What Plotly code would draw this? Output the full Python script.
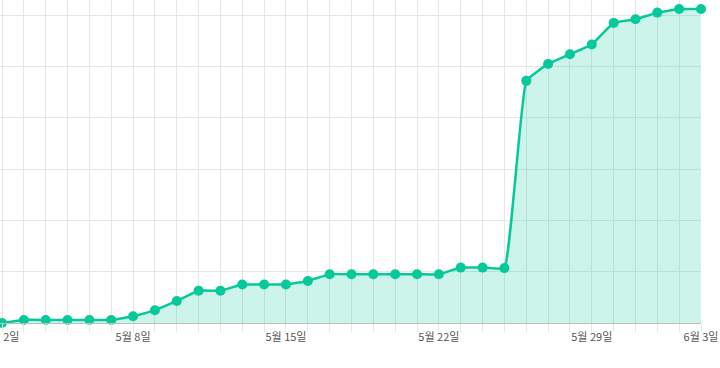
import plotly.graph_objects as go
import pandas as pd

dates = pd.date_range("2024-05-02", "2024-06-03", freq="D").strftime("%Y-%m-%d").tolist()
values = [0.0, 0.6, 0.6, 0.6, 0.6, 0.6, 1.3, 2.5, 4.3, 6.3, 6.3,
          7.5, 7.5, 7.5, 8.2, 9.5, 9.5, 9.5, 9.5, 9.5, 9.5,
          10.8, 10.8, 10.7, 47.2, 50.5, 52.4, 54.3, 58.5, 59.2,
          60.5, 61.2, 61.2]
tick_vals = ["2024-05-02", "2024-05-08", "2024-05-15", "2024-05-22", "2024-05-29", "2024-06-03"]
tick_text = ["5월 2일", "5월 8일", "5월 15일", "5월 22일", "5월 29일", "6월 3일"]

LINE = "#05c99a"
FILL = "rgba(5,201,154,0.2)"
GRID = "#e6e6e6"

fig = go.Figure()
fig.add_trace(go.Scatter(
    x=dates, y=values, mode="lines+markers",
    line=dict(color=LINE, width=2.5, shape="spline", smoothing=0.3),
    marker=dict(color=LINE, size=10),
    fill="tozeroy", fillcolor=FILL,
    cliponaxis=False, hoverinfo="skip",
))

x0 = pd.Timestamp("2024-05-02") - pd.Timedelta(hours=24 * 2 / 21.84)
x1 = pd.Timestamp("2024-06-03")

fig.update_layout(
    width=720, height=368,
    margin=dict(l=0, r=19, t=0, b=45),
    paper_bgcolor="white", plot_bgcolor="white",
    showlegend=False,
    font=dict(family="Noto Sans CJK KR, sans-serif", size=11, color="#555555"),
    xaxis=dict(
        type="date", range=[x0, x1], automargin=False,
        tickmode="array", tickvals=tick_vals, ticktext=tick_text,
        showgrid=True, gridcolor=GRID, gridwidth=1,
        ticks="outside", ticklen=8, tickcolor=GRID, tickwidth=1,
        ticklabelstandoff=-4, ticklabeloverflow="allow",
        showline=True, linecolor="#bdbdbd", linewidth=1,
        zeroline=False,
        tickfont=dict(size=11, color="#555555"),
        minor=dict(tickmode="array", tickvals=dates, showgrid=True,
                   gridcolor=GRID, gridwidth=1, ticks="outside",
                   ticklen=8, tickcolor=GRID),
    ),
    yaxis=dict(
        range=[0, 62.96], automargin=False,
        tickmode="linear", tick0=0, dtick=10,
        showticklabels=False, showgrid=True, gridcolor=GRID, gridwidth=1,
        zeroline=False, showline=False,
    ),
)

fig.write_html(
    "out.html",
    config={"displayModeBar": False, "staticPlot": True},
    post_script="document.body.style.margin='0';document.body.style.padding='0';",
)
